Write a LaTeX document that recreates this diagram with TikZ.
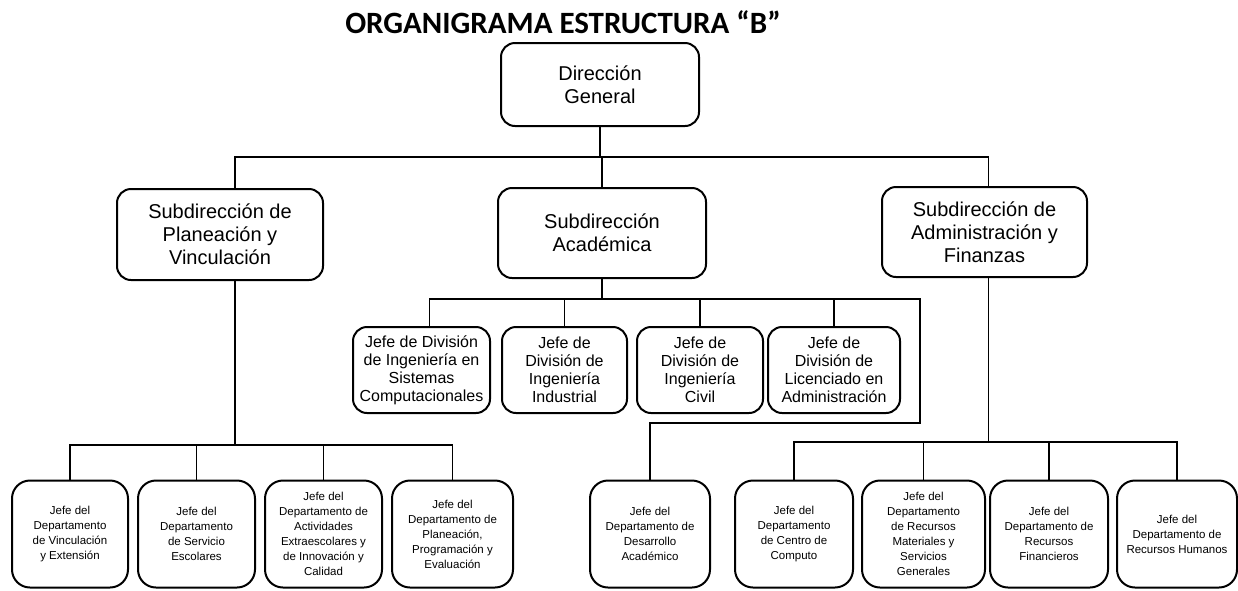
\documentclass[tikz,border=0pt]{standalone}
\usepackage{fontspec}
\setmainfont{Liberation Sans}
\newfontfamily\titlefont{Carlito}
\begin{document}
\begin{tikzpicture}[x=1pt, y=-1pt,
        every node/.style={inner sep=0pt, align=center},
        box/.style={draw, line width=2pt, rounded corners=14pt},
        bigbox/.style={box, font=\fontsize{20}{23}\selectfont},
        divbox/.style={box, minimum height=86pt, font=\fontsize{16}{18}\selectfont},
        depbox/.style={box, minimum height=107pt, rounded corners=18pt, font=\fontsize{11.5}{15}\selectfont},
        link/.style={line width=1.6pt}]
    \useasboundingbox (0,0) rectangle (1238,590);
    \node[font=\titlefont\bfseries\fontsize{31}{34}\selectfont] (title) at (563,22) {ORGANIGRAMA ESTRUCTURA “B”};
    \node[bigbox, minimum width=198pt, minimum height=83pt] (dg) at (600,84.5) {Dirección\\General};
    \node[bigbox, minimum width=206pt, minimum height=91pt] (sp) at (220,234.5) {Subdirección de\\Planeación y\\Vinculación};
    \node[bigbox, minimum width=208pt, minimum height=90pt] (sa) at (602,233) {Subdirección\\Académica};
    \node[bigbox, minimum width=205pt, minimum height=90pt] (saf) at (984.5,232) {Subdirección de\\Administración y\\Finanzas};
    \node[divbox, minimum width=137pt] (d1) at (421.5,370) {Jefe de División\\de Ingeniería en\\Sistemas\\Computacionales};
    \node[divbox, minimum width=125pt] (d2) at (564.5,370) {Jefe de\\División de\\Ingeniería\\Industrial};
    \node[divbox, minimum width=126pt] (d3) at (700,370) {Jefe de\\División de\\Ingeniería\\Civil};
    \node[divbox, minimum width=132pt] (d4) at (834,370) {Jefe de\\División de\\Licenciado en\\Administración};
    \foreach \n/\x/\w/\t in {
            b1/70/116/{Jefe del\\Departamento\\de Vinculación\\y Extensión},
            b2/196.5/117/{Jefe del\\Departamento\\de Servicio\\Escolares},
            b3/323.5/117/{Jefe del\\Departamento de\\Actividades\\Extraescolares y\\de Innovación y\\Calidad},
            b4/452.5/121/{Jefe del\\Departamento de\\Planeación,\\Programación y\\Evaluación},
            b5/650/120/{Jefe del\\Departamento de\\Desarrollo\\Académico},
            b6/794/118/{Jefe del\\Departamento\\de Centro de\\Computo},
            b7/923.5/123/{Jefe del\\Departamento\\de Recursos\\Materiales y\\Servicios\\Generales},
            b8/1049/118/{Jefe del\\Departamento de\\Recursos\\Financieros},
            b9/1177/120/{Jefe del\\Departamento de\\Recursos Humanos}} {
        \node[depbox, minimum width=\w pt] (\n) at (\x,534) {\t};
    }
    \coordinate (j0) at (602,157);
    \coordinate (j1) at (602,299);
    \coordinate (j2) at (920,423);
    \coordinate (j3) at (235,445);
    \coordinate (j4) at (988.5,442);
    \draw[link] (dg.south) -- (dg.south |- j0);
    \draw[link] ([xshift=15pt]sp.north) |- (j0) -| ([xshift=4pt]saf.north);
    \draw[link] (sa.north) -- (sa.north |- j0);
    \draw[link] (sa.south) -- (j1);
    \draw[link] ([xshift=8pt]d1.north) |- (j2 |- j1) -- (j2) -| (b5.north);
    \foreach \n in {d2,d3,d4}
        \draw[link] (\n.north) -- (\n.north |- j1);
    \draw[link] ([xshift=15pt]sp.south) -- (j3);
    \draw[link] (b1.north) |- (j3) -| (b4.north);
    \foreach \n in {b2,b3}
        \draw[link] (\n.north) -- (\n.north |- j3);
    \draw[link] ([xshift=4pt]saf.south) -- (j4);
    \draw[link] (b6.north) |- (j4) -| (b9.north);
    \foreach \n in {b7,b8}
        \draw[link] (\n.north) -- (\n.north |- j4);
\end{tikzpicture}
\end{document}
